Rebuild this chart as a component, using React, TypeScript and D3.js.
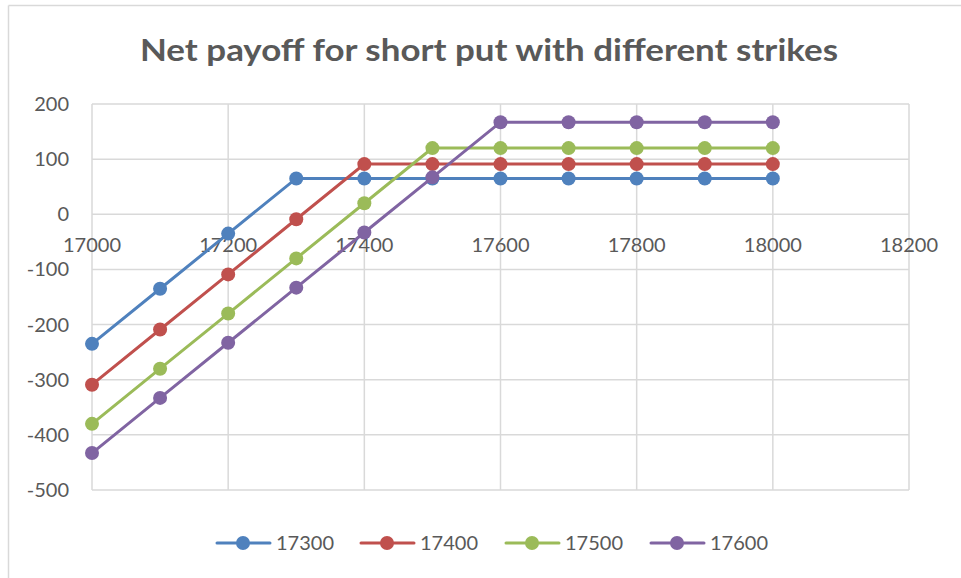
import React from "react";
import * as d3 from "d3";

const strikes = [17000, 17100, 17200, 17300, 17400, 17500, 17600, 17700, 17800, 17900, 18000];
const seriesNames = ["17300", "17400", "17500", "17600"];
const s17300 = [-235, -135, -35, 65, 65, 65, 65, 65, 65, 65, 65];
const s17400 = [-309, -209, -109, -9, 91, 91, 91, 91, 91, 91, 91];
const s17500 = [-380, -280, -180, -80, 20, 120, 120, 120, 120, 120, 120];
const s17600 = [-433, -333, -233, -133, -33, 67, 167, 167, 167, 167, 167];
const seriesColors = ["#4f81bd", "#c0504d", "#9bbb59", "#8064a2"];
const xTicks = [17000, 17200, 17400, 17600, 17800, 18000, 18200];
const yTicks = [200, 100, 0, -100, -200, -300, -400, -500];
const title = "Net payoff for short put with different strikes";

export default function App() {
  const W = 961, H = 578;
  const left = 92, right = 909, top = 104, bottom = 490;
  const x = d3.scaleLinear().domain([17000, 18200]).range([left, right]);
  const y = d3.scaleLinear().domain([-500, 200]).range([bottom, top]);
  const data = [s17300, s17400, s17500, s17600];
  const line = d3.line<number>().x((_, i) => x(strikes[i])).y((d) => y(d));
  const font = "Lato, 'Open Sans', sans-serif";
  const textColor = "#595959";
  const grid = "#d9d9d9";
  const legendX = [217, 361, 506, 651];
  const legendY = 543;
  return (
    <svg width={W} height={H} style={{ position: "absolute", left: 0, top: 0, background: "#fff" }}>
      <rect x={0} y={0} width={W} height={H} fill="#fff" />
      <line x1={8.5} y1={5.5} x2={W} y2={5.5} stroke={grid} strokeWidth={1.5} />
      <line x1={8.5} y1={5.5} x2={8.5} y2={H} stroke={grid} strokeWidth={1.5} />
      <text x={489} y={61} textAnchor="middle" fontFamily={font} fontWeight="bold" fontSize={30} fill={textColor} textLength={698} lengthAdjust="spacingAndGlyphs">
        {title}
      </text>
      {yTicks.map((t) => (
        <line key={"gy" + t} x1={left} x2={right} y1={y(t)} y2={y(t)} stroke={grid} strokeWidth={1.5} />
      ))}
      {xTicks.map((t) => (
        <line key={"gx" + t} x1={x(t)} x2={x(t)} y1={top} y2={bottom} stroke={grid} strokeWidth={1.5} />
      ))}
      {yTicks.map((t) => (
        <text key={"ly" + t} x={69} y={y(t) + 7} textAnchor="end" fontFamily={font} fontSize={20} fill={textColor}>
          {t}
        </text>
      ))}
      {xTicks.map((t) => (
        <text key={"lx" + t} x={x(t)} y={y(0) + 38} textAnchor="middle" fontFamily={font} fontSize={20} fill={textColor}>
          {t}
        </text>
      ))}
      {data.map((s, k) => (
        <g key={"s" + k}>
          <path d={line(s) || ""} fill="none" stroke={seriesColors[k]} strokeWidth={3} />
          {s.map((v, i) => (
            <circle key={i} cx={x(strikes[i])} cy={y(v)} r={7} fill={seriesColors[k]} />
          ))}
        </g>
      ))}
      {seriesNames.map((n, k) => (
        <g key={"lg" + n}>
          <line x1={legendX[k]} x2={legendX[k] + 53} y1={legendY} y2={legendY} stroke={seriesColors[k]} strokeWidth={3} strokeLinecap="round" />
          <circle cx={legendX[k] + 26} cy={legendY} r={7} fill={seriesColors[k]} />
          <text x={legendX[k] + 59} y={legendY + 7} fontFamily={font} fontSize={20} fill={textColor}>
            {n}
          </text>
        </g>
      ))}
    </svg>
  );
}
